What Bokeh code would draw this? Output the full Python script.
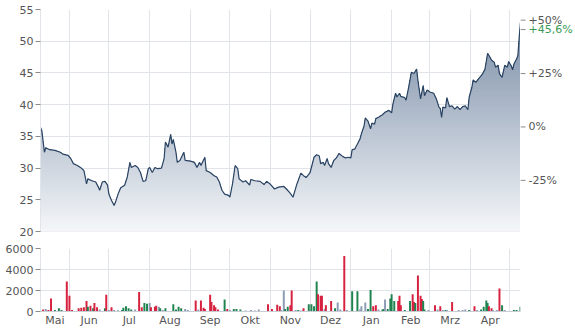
import numpy as np
import pandas as pd
from bokeh.plotting import figure
from bokeh.layouts import column, row
from bokeh.models import Range1d, FixedTicker, CustomJSTickFormatter
from bokeh.core.properties import value
from bokeh.embed import file_html
from bokeh.resources import INLINE

START = "2023-05-10"

price_days = [0, 1, 3, 4, 7, 11, 15, 17, 21, 23, 25, 28, 31, 33, 34, 35, 36, 39, 42, 44,
              45, 47, 49, 51, 52, 54, 56, 57, 59, 61, 64, 66, 68, 69, 72, 74, 76, 78, 80, 82,
              83, 85, 87, 89, 92, 94, 95, 97, 99, 100, 101, 103, 104, 106, 109, 110, 114, 117, 119, 121,
              122, 125, 126, 129, 132, 134, 136, 138, 140, 143, 144, 146, 148, 150, 151, 154, 156, 159, 160, 163,
              167, 170, 172, 175, 178, 181, 185, 187, 190, 192, 195, 198, 200, 202, 205, 208, 210, 212, 213, 215,
              216, 218, 219, 221, 223, 225, 227, 230, 232, 234, 236, 237, 239, 241, 243, 244, 246, 247, 249, 251,
              252, 254, 255, 257, 260, 262, 265, 267, 268, 270, 271, 273, 274, 277, 278, 280, 282, 284, 286, 287,
              289, 291, 292, 294, 296, 299, 301, 303, 304, 305, 306, 308, 309, 311, 313, 315, 317, 319, 321, 323,
              325, 326, 328, 329, 331, 334, 336, 338, 340, 342, 343, 345, 346, 348, 349, 351, 353, 355, 356, 358,
              359, 360, 362, 363, 364, 365]
price_values = [36.4, 35.9, 32.5, 33.2, 32.9, 32.8, 32.5, 32.2, 32.0, 31.5, 30.7, 30.4, 30.0, 29.6, 28.6, 27.5, 28.3, 28.0, 27.8, 27.0,
                26.5, 27.8, 27.9, 27.3, 25.9, 24.9, 24.1, 24.6, 25.9, 26.9, 27.3, 28.6, 30.9, 30.1, 30.4, 30.1, 29.3, 27.9, 28.0, 29.9,
                30.1, 29.3, 30.1, 29.9, 30.0, 31.5, 34.1, 33.3, 35.3, 33.8, 34.5, 32.5, 30.9, 31.2, 32.5, 31.2, 31.1, 30.9, 30.1, 30.9,
                30.4, 31.7, 29.6, 29.3, 28.8, 28.6, 27.8, 26.5, 25.9, 25.7, 25.4, 27.5, 30.4, 29.9, 28.3, 27.8, 28.0, 27.3, 28.2, 28.0,
                27.9, 27.4, 27.9, 27.4, 26.7, 27.0, 27.1, 26.7, 26.0, 25.4, 27.5, 29.2, 28.8, 28.5, 29.3, 31.7, 32.1, 31.9, 30.7, 30.9,
                30.4, 31.5, 30.7, 30.1, 31.2, 31.6, 32.3, 31.8, 31.6, 31.7, 31.6, 32.9, 33.0, 33.8, 34.6, 35.4, 36.6, 37.9, 37.4, 36.2,
                37.1, 36.9, 37.8, 38.0, 38.4, 38.8, 39.1, 38.7, 40.1, 41.8, 41.2, 41.8, 41.3, 41.1, 40.7, 42.8, 45.1, 44.9, 45.6, 43.8,
                40.9, 43.0, 41.4, 42.3, 42.0, 41.8, 40.9, 39.6, 39.4, 38.0, 39.6, 39.5, 41.1, 39.7, 39.8, 39.3, 39.7, 39.2, 39.7, 39.8,
                39.2, 41.2, 42.7, 43.9, 43.5, 44.3, 44.8, 45.6, 48.1, 47.4, 47.0, 46.7, 45.9, 46.2, 44.9, 44.3, 46.2, 45.9, 46.8, 46.1,
                45.5, 46.4, 47.2, 47.7, 50.6, 53.0]

vol_days = [2, 4, 6, 8, 11, 14, 16, 20, 22, 24, 29, 31, 33, 35, 36, 38, 40, 41, 43, 45,
            49, 50, 52, 54, 56, 59, 62, 63, 65, 67, 69, 72, 75, 77, 79, 81, 83, 84, 87, 88,
            90, 91, 93, 95, 101, 103, 105, 107, 110, 112, 118, 120, 122, 124, 125, 129, 130, 132, 133, 135,
            140, 142, 144, 147, 149, 152, 156, 160, 163, 166, 173, 176, 180, 182, 183, 185, 186, 188, 190, 191,
            194, 196, 198, 200, 204, 206, 208, 210, 211, 213, 214, 216, 217, 221, 224, 226, 228, 231, 233, 237,
            241, 243, 244, 247, 249, 251, 253, 255, 257, 260, 261, 262, 264, 266, 267, 269, 272, 273, 274, 277,
            281, 283, 284, 285, 287, 289, 290, 291, 292, 295, 300, 302, 304, 306, 308, 309, 313, 318, 321, 323,
            326, 330, 332, 335, 337, 339, 340, 341, 343, 344, 347, 349, 351, 353, 360, 362, 365]
vol_values = [200, 250, 150, 1250, 150, 300, 150, 2850, 1500, 150, 300, 350, 400, 1000, 450, 550, 300, 800, 400, 200,
              300, 1600, 150, 400, 150, 100, 150, 350, 500, 300, 200, 200, 1850, 400, 800, 750, 800, 400, 450, 550,
              450, 300, 150, 300, 700, 200, 450, 300, 250, 150, 1050, 200, 1050, 350, 250, 1600, 900, 600, 400, 200,
              1150, 250, 150, 250, 250, 200, 100, 150, 100, 200, 700, 250, 650, 500, 150, 2000, 250, 450, 600, 2000,
              150, 150, 100, 300, 700, 700, 500, 2850, 1650, 1500, 1500, 250, 600, 1000, 300, 850, 200, 5280, 150, 1920,
              1920, 200, 500, 850, 250, 2050, 500, 600, 200, 200, 250, 1150, 250, 1250, 1650, 1000, 1000, 1500, 600, 150,
              1000, 1650, 900, 800, 3430, 1500, 1200, 1000, 200, 150, 600, 200, 500, 150, 150, 150, 900, 150, 150, 200,
              150, 500, 150, 200, 450, 1050, 800, 500, 300, 150, 150, 2200, 600, 150, 150, 150, 450]
vol_dir = ["r", "n", "r", "r", "g", "g", "g", "r", "r", "r", "r", "r", "r", "r", "g", "r", "g", "r", "r", "n",
           "g", "r", "n", "r", "n", "g", "g", "g", "g", "g", "g", "n", "r", "r", "g", "g", "n", "r", "r", "r",
           "n", "g", "n", "g", "g", "g", "g", "g", "n", "n", "r", "n", "r", "r", "r", "r", "r", "r", "r", "r",
           "g", "r", "n", "g", "g", "g", "n", "n", "n", "n", "r", "r", "r", "r", "n", "n", "g", "g", "r", "r",
           "n", "g", "n", "r", "g", "g", "g", "g", "r", "r", "r", "n", "r", "r", "g", "n", "n", "r", "n", "g",
           "g", "n", "n", "n", "g", "g", "r", "r", "n", "g", "g", "n", "g", "g", "g", "g", "r", "r", "r", "g",
           "g", "r", "r", "g", "r", "r", "r", "g", "g", "n", "r", "n", "r", "n", "g", "n", "r", "n", "n", "n",
           "g", "r", "n", "g", "g", "g", "g", "r", "r", "n", "n", "r", "g", "n", "g", "g", "g"]

month_names = ["Jan", "Feb", "Mrz", "Apr", "Mai", "Jun", "Jul", "Aug", "Sep", "Okt", "Nov", "Dez"]
price_ticks = [20, 25, 30, 35, 40, 45, 50, 55]
pct_levels = [50, 25, 0, -25]
vol_ticks = [0, 2000, 4000, 6000]

# ---- derived ----
start = pd.Timestamp(START)
price_dates = start + pd.to_timedelta(price_days, unit="D")
vol_dates = start + pd.to_timedelta(vol_days, unit="D")
end = price_dates[-1]

def ms(ts):
    return float(pd.Timestamp(ts).value // 10**6)

month_starts = list(pd.date_range(start, end, freq="MS"))
bounds = [ms(start)] + [ms(m) for m in month_starts] + [ms(end)]
grid_ms = bounds
label_ms = [(bounds[i] + bounds[i + 1]) / 2 for i in range(len(bounds) - 2)]

base = price_values[0]
last = price_values[-1]
change = (last / base - 1) * 100
change_txt = ("+" if change >= 0 else "") + f"{change:.1f}".replace(".", ",") + "%"

FONT = "DejaVu Sans"
TXT = "#555555"
GRID = "#e1e5ea"
TICK = "#8a8a8a"
LINE = "#2b4464"
GREEN_TXT = "#3a9a55"

Y0, Y1 = 20, 55
TOP_B, BOT_B = 9, 9
H1 = 240

x_range = Range1d(start=start, end=end)
y_range = Range1d(Y0, Y1)

p = figure(width=520, height=H1, x_axis_type="datetime", x_range=x_range,
           y_range=y_range, x_axis_location=None,
           output_backend="svg", toolbar_location=None,
           min_border_left=40, min_border_right=0, min_border_top=TOP_B, min_border_bottom=BOT_B)
p.outline_line_color = None
p.xgrid.ticker = FixedTicker(ticks=grid_ms)
p.ygrid.ticker = FixedTicker(ticks=price_ticks[:-1])
p.grid.grid_line_color = GRID

# vertical gradient fill emulated by stacked areas
c_top = np.array([116, 136, 162])
c_bot = np.array([244, 246, 249])
pv = np.array(price_values)
levels = np.arange(55.0, 20.0, -0.5)
for hi in levels:
    t = (hi - 0.25 - 20) / 35.0
    c = (c_bot + (c_top - c_bot) * t).round().astype(int)
    col = "#%02x%02x%02x" % tuple(c)
    p.varea(x=price_dates, y1=20, y2=np.minimum(pv, hi), fill_color=col, fill_alpha=1.0)

p.line(price_dates, price_values, line_color=LINE, line_width=1.2)

ax = p.yaxis[0]
ax.ticker = FixedTicker(ticks=price_ticks)
ax.axis_line_color = GRID
ax.major_tick_in = 0
ax.major_tick_out = 5
ax.major_tick_line_color = TICK
ax.minor_tick_line_color = None
ax.major_label_standoff = 2
ax.major_label_text_font = FONT
ax.major_label_text_font_size = "11px"
ax.major_label_text_color = TXT

# ---- right-hand percentage scale (separate strip sharing the same pixel scale) ----
frame_h = H1 - TOP_B - BOT_B
k = (Y1 - Y0) / frame_h
side = figure(width=55, height=H1, x_range=Range1d(0, 55),
              y_range=Range1d(Y0 - BOT_B * k, Y1 + TOP_B * k),
              x_axis_location=None, y_axis_location=None,
              output_backend="svg", toolbar_location=None,
              min_border_left=0, min_border_right=0, min_border_top=0, min_border_bottom=0)
side.outline_line_color = None
side.grid.visible = False
r_ticks = [base * (1 + q / 100.0) for q in pct_levels] + [last]
r_labels = [("+" if q > 0 else "") + f"{q}%" for q in pct_levels] + [change_txt]
r_colors = [TXT] * len(pct_levels) + [GREEN_TXT]
side.segment(x0=0, y0=r_ticks, x1=5, y1=r_ticks, line_color=TICK, line_width=1)
side.text(x=[8] * len(r_ticks), y=r_ticks, text=r_labels, text_color=r_colors,
          text_baseline="middle", text_align="left",
          text_font=value(FONT), text_font_size="11px")

# ---- volume ----
cmap = {"r": "#d6213f", "g": "#1f8350", "n": "#8c9cb4"}
p2 = figure(width=575, height=331 - H1, x_axis_type="datetime", x_range=x_range,
            y_range=Range1d(0, 6000),
            output_backend="svg", toolbar_location=None,
            min_border_left=40, min_border_right=55, min_border_top=8, min_border_bottom=20)
p2.outline_line_color = None
p2.xgrid.ticker = FixedTicker(ticks=grid_ms)
p2.ygrid.ticker = FixedTicker(ticks=vol_ticks)
p2.grid.grid_line_color = GRID

p2.vbar(x=vol_dates, top=vol_values, width=1.5 * 86400000,
        fill_color=[cmap[d] for d in vol_dir], line_color=None)

vy = p2.yaxis[0]
vy.ticker = FixedTicker(ticks=vol_ticks)
vy.axis_line_color = GRID
vy.major_tick_in = 0
vy.major_tick_out = 5
vy.major_tick_line_color = TICK
vy.minor_tick_line_color = None
vy.major_label_standoff = 2
vy.major_label_text_font = FONT
vy.major_label_text_font_size = "11px"
vy.major_label_text_color = TXT

vx = p2.xaxis[0]
vx.ticker = FixedTicker(ticks=label_ms)
vx.formatter = CustomJSTickFormatter(args=dict(names=month_names), code="""
    const d = new Date(tick);
    return names[d.getUTCMonth()];
""")
vx.axis_line_color = "#c9ced6"
vx.major_tick_in = 0
vx.major_tick_out = 0
vx.minor_tick_line_color = None
vx.major_label_standoff = 2
vx.major_label_text_font = FONT
vx.major_label_text_font_size = "11px"
vx.major_label_text_color = TXT

layout = column(row(p, side, spacing=0), p2, spacing=0)
open("out.html", "w").write(file_html(layout, INLINE))
